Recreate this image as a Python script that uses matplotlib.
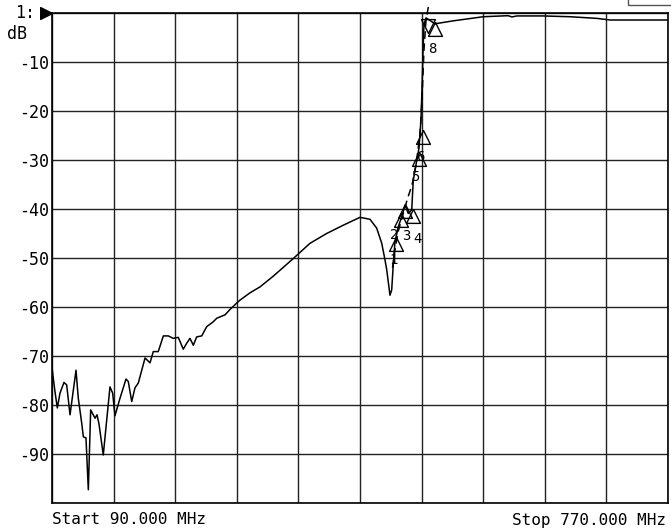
import numpy as np
import matplotlib
matplotlib.use("Agg")
import matplotlib.pyplot as plt
from matplotlib.patches import Rectangle

# measured trace, MHz / dB
freq = [90.0, 93.3, 95.9, 98.8, 103.2, 106.2, 109.9, 116.5, 119.0, 122.8,
        124.6, 127.5, 128.6, 130.1, 132.7, 137.5, 139.7, 141.9, 146.6, 154.0,
        157.0, 159.5, 165.1, 171.7, 174.2, 178.0, 181.6, 185.3, 192.7, 198.2,
        201.8, 207.3, 212.9, 218.4, 223.9, 229.4, 234.9, 238.7, 242.3, 246.0,
        249.7, 255.3, 260.8, 268.1, 271.8, 281.0, 286.5, 293.9, 297.5, 308.6,
        319.6, 334.3, 356.4, 374.8, 393.2, 411.6, 430.0, 441.0, 448.4, 454.0,
        457.6, 459.5, 463.1, 465.0, 466.8, 468.6, 472.3, 476.0, 479.7, 483.3,
        487.1, 488.8, 491.8, 495.1, 497.3, 498.4, 499.6, 500.6, 502.9, 512.8,
        533.0, 566.1, 593.4, 597.8, 603.3, 632.0, 661.8, 691.6, 706.0, 770.0]
s21 = [-72.4, -77.3, -80.6, -77.6, -75.4, -75.9, -82.0, -72.9, -78.6, -83.7,
       -86.5, -86.7, -91.2, -97.3, -81.0, -82.7, -82.0, -83.9, -90.2, -76.3,
       -77.6, -82.2, -78.6, -74.7, -75.2, -79.3, -76.5, -75.5, -70.4, -71.4,
       -69.1, -69.1, -65.9, -65.9, -66.4, -66.2, -68.6, -67.4, -66.4, -67.8,
       -66.1, -65.9, -64.0, -63.0, -62.3, -61.6, -60.5, -59.2, -58.6, -57.1,
       -55.9, -53.7, -50.1, -47.0, -45.0, -43.3, -41.7, -42.1, -43.9, -47.0,
       -50.4, -52.4, -57.6, -56.5, -51.1, -46.7, -43.6, -41.6, -39.2, -40.9,
       -40.2, -34.1, -31.0, -27.6, -21.8, -15.7, -7.6, -2.4, -1.0, -2.2,
       -1.6, -0.76, -0.55, -0.8, -0.6, -0.6, -0.76, -1.1, -1.43, -1.43]

# second (dashed) trace on the skirt
freq2 = [465.9, 468.6, 472.0, 476.4, 481.9, 487.4, 491.8, 496.2, 498.4, 500.6, 502.9, 505.6]
s21_2 = [-52.0, -48.4, -44.7, -41.8, -38.2, -35.1, -31.0, -24.9, -17.8, -7.6, -1.4, 1.4]

# markers
mk_freq = [469.7, 475.8, 479.7, 488.0, 494.6, 499.5, 505.3, 512.8]
mk_db = [-45.7, -40.8, -38.9, -40.1, -28.3, -23.9, -4.1, -1.8]
mk_names = ['1', '2', '3', '4', '5', '6', '7', '8']

start, stop = 90.0, 770.0
ytick_vals = list(range(0, -101, -10))
ytick_text = [''] + ['-%d' % v for v in range(10, 100, 10)] + ['']

font = 'DejaVu Sans Mono'

fig = plt.figure(figsize=(6.71, 5.30), dpi=100)
ax = fig.add_axes([52 / 671, 27 / 530, 616 / 671, 490 / 530])
ax.set_xlim(start, stop)
ax.set_ylim(-100, 0)
ax.set_xticks(np.linspace(start, stop, 11))
ax.set_xticklabels([])
ax.set_yticks(ytick_vals)
ax.set_yticklabels(ytick_text, fontfamily=font, fontsize=12)
ax.tick_params(length=0, pad=2)
ax.grid(True, color='#222222', linewidth=1.0)
for sp in ax.spines.values():
    sp.set_linewidth(1.2)
    sp.set_color('black')

ax.plot(freq, s21, color='black', linewidth=1.1)
ax.plot(freq2, s21_2, color='black', linewidth=1.1, dashes=(5, 3), clip_on=False)

up = [(0, 0), (-0.5, -1), (0.5, -1), (0, 0)]
down = [(0, 0), (-0.5, 1), (0.5, 1), (0, 0)]
# label offsets in pixels from the marker tip
label_off = {'1': (-2, -16), '2': (-7, -15), '3': (1, -25), '4': (5, -23),
             '5': (-3, -18), '6': (-3, -20), '8': (-3, -20)}
for f, d, n in zip(mk_freq, mk_db, mk_names):
    ax.plot([f], [d], marker=down if n == '7' else up, markersize=20,
            markerfacecolor='none', markeredgecolor='black', markeredgewidth=1.0,
            clip_on=False)
    if n in label_off:
        dx, dy = label_off[n]
        ax.annotate(n, (f, d), xytext=(dx, dy), textcoords='offset pixels',
                    ha='center', va='top', fontfamily=font, fontsize=10)

# reference level arrow and labels
ax.plot([0], [1], transform=ax.transAxes, marker=[(0, 0), (-1, 0.5), (-1, -0.5), (0, 0)],
        markersize=17, color='black', clip_on=False)
fig.text(35 / 671, 1 - 13 / 530, '1:', ha='right', va='center', fontfamily=font, fontsize=12)
fig.text(7 / 671, 1 - 34 / 530, 'dB', ha='left', va='center', fontfamily=font, fontsize=12)
fig.text(52 / 671, 1 - 520 / 530, 'Start 90.000 MHz', ha='left', va='center',
         fontfamily=font, fontsize=11.5)
fig.text(666 / 671, 1 - 520 / 530, 'Stop 770.000 MHz', ha='right', va='center',
         fontfamily=font, fontsize=11.5)

fig.patches.append(Rectangle((628 / 671, 1 - 5 / 530), 50 / 671, 10 / 530,
                             transform=fig.transFigure, fill=False,
                             edgecolor='#555555', linewidth=1.0))

fig.savefig('out.png', dpi=100)
